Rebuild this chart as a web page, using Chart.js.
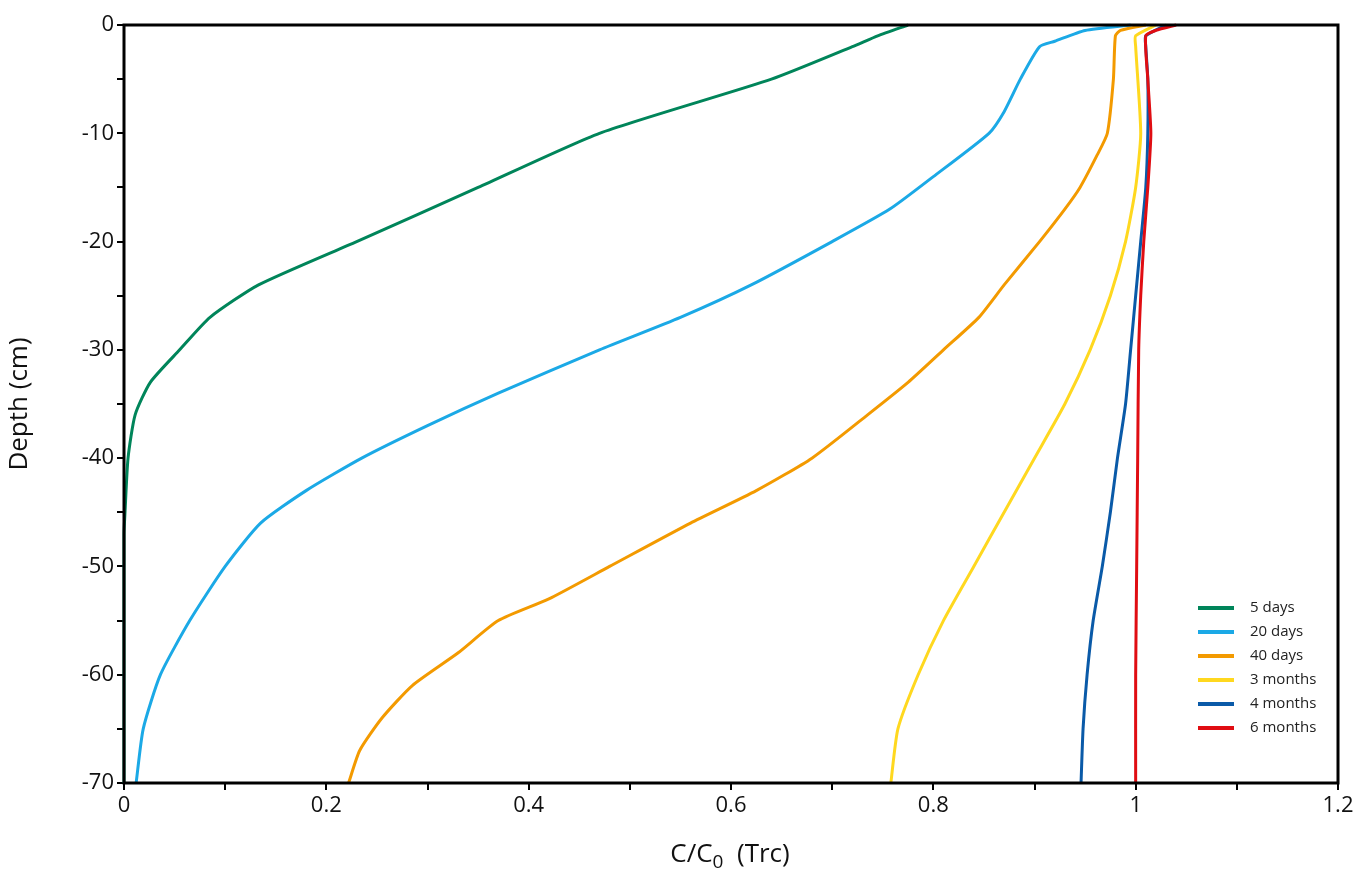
<!DOCTYPE html>
<html>
<head>
<meta charset="utf-8">
<script src="https://cdn.jsdelivr.net/npm/chart.js@4"></script>
<style>
  html, body { margin: 0; padding: 0; background: #fff; }
  #wrap { position: relative; width: 1358px; height: 889px; font-family: "Open Sans", "DejaVu Sans", sans-serif; }
  #xtitle { position: absolute; left: 0; width: 1460px; top: 834px; text-align: center; font-size: 26px; color: #111; }
  #xtitle sub { font-size: 19px; }
  #legend { position: absolute; left: 1198px; top: 594px; font-size: 15px; color: #222; }
  #legend div { height: 24px; line-height: 24px; white-space: nowrap; }
  #legend span { display: inline-block; width: 36px; height: 4px; vertical-align: middle; margin-right: 16px; }
</style>
</head>
<body>
<div id="wrap">
  <canvas id="c" width="1358" height="889"></canvas>
  <div id="xtitle">C/C<sub>0</sub>&nbsp; (Trc)</div>
  <div id="legend"></div>
</div>
<script>
// series labels and colours
const seriesNames = ["5 days", "20 days", "40 days", "3 months", "4 months", "6 months"];
const seriesColors = ["#00855a", "#1ba9e6", "#f39a00", "#ffd81f", "#0a5aa8", "#e00d12"];

// depth (cm) and C/C0 per series
const depth5d = [0, -1, -2, -5, -10, -15, -20, -24, -27, -30, -33, -36, -40, -45, -47, -70];
const conc5d = [0.775, 0.745, 0.72, 0.64, 0.47, 0.35, 0.23, 0.133, 0.085, 0.055, 0.026, 0.011, 0.004, 0.001, 0, 0];

const depth20d = [0, -0.5, -1.5, -2, -5, -8, -10, -14, -17, -20, -24, -27, -30, -34, -37, -40, -43, -46, -50, -55, -60, -65, -70];
const conc20d = [0.995, 0.95, 0.92, 0.905, 0.886, 0.87, 0.855, 0.80, 0.757, 0.70, 0.62, 0.55, 0.47, 0.37, 0.30, 0.235, 0.18, 0.135, 0.10, 0.065, 0.036, 0.019, 0.012];

const depth40d = [0, -0.5, -1, -5, -10, -12, -15, -17, -20, -24, -27, -30, -33, -36, -40, -43, -46, -50, -53, -55, -58, -61, -64, -67, -70];
const conc40d = [1.01, 0.985, 0.98, 0.978, 0.972, 0.962, 0.945, 0.93, 0.905, 0.87, 0.845, 0.81, 0.775, 0.735, 0.68, 0.625, 0.56, 0.48, 0.42, 0.37, 0.33, 0.285, 0.255, 0.233, 0.222];

const depth3m = [0, -1, -2, -10, -15, -20, -25, -30, -35, -40, -45, -50, -55, -60, -65, -70];
const conc3m = [1.02, 1.0, 1.0, 1.005, 1.0, 0.99, 0.975, 0.955, 0.93, 0.90, 0.87, 0.84, 0.81, 0.785, 0.765, 0.758];

const depth4m = [0, -1, -2, -5, -10, -15, -20, -25, -30, -35, -40, -45, -50, -55, -60, -65, -70];
const conc4m = [1.03, 1.01, 1.01, 1.012, 1.012, 1.01, 1.005, 1.0, 0.995, 0.99, 0.982, 0.975, 0.967, 0.958, 0.952, 0.948, 0.946];

const depth6m = [0, -0.5, -1, -5, -10, -15, -20, -25, -30, -40, -50, -60, -70];
const conc6m = [1.04, 1.02, 1.01, 1.012, 1.015, 1.012, 1.008, 1.005, 1.003, 1.002, 1.001, 1.0, 1.0];

const depths = [depth5d, depth20d, depth40d, depth3m, depth4m, depth6m];
const concs = [conc5d, conc20d, conc40d, conc3m, conc4m, conc6m];

const datasets = seriesNames.map((name, i) => ({
    label: name,
    data: depths[i].map((d, k) => ({ x: concs[i][k], y: d })),
    showLine: true,
    borderColor: seriesColors[i],
    backgroundColor: seriesColors[i],
    borderWidth: 3,
    pointRadius: 0,
    tension: 0.2,
    clip: 4
})).reverse();

// legend
const legendEl = document.getElementById('legend');
seriesNames.forEach((name, i) => {
    const row = document.createElement('div');
    row.innerHTML = '<span style="background:' + seriesColors[i] + '"></span>' + name;
    legendEl.appendChild(row);
});

// box around plot area
const frame = {
    id: 'frame',
    afterDatasetsDraw(chart) {
        const a = chart.chartArea, ctx = chart.ctx;
        ctx.save();
        ctx.strokeStyle = '#000';
        ctx.lineWidth = 3;
        ctx.strokeRect(a.left, a.top, a.right - a.left, a.bottom - a.top);
        ctx.restore();
    }
};

const tickFont = { family: '"Open Sans", "DejaVu Sans", sans-serif', size: 22 };

new Chart(document.getElementById('c'), {
    type: 'scatter',
    data: { datasets },
    plugins: [frame],
    options: {
        responsive: false,
        animation: false,
        layout: { padding: { top: 25, right: 20, left: 0, bottom: 0 } },
        plugins: { legend: { display: false }, tooltip: { enabled: false } },
        scales: {
            x: {
                min: 0, max: 1.2,
                grid: { drawOnChartArea: false, color: '#000', tickLength: 7, lineWidth: 2 },
                border: { display: false },
                ticks: {
                    stepSize: 0.1, color: '#111', font: tickFont, maxRotation: 0, autoSkip: false,
                    callback: v => {
                        const r = Math.round(v * 10);
                        return r % 2 === 0 ? String(r / 10) : '';
                    }
                },
                afterFit: s => { s.height = 106; }
            },
            y: {
                min: -70, max: 0,
                grid: { drawOnChartArea: false, color: '#000', tickLength: 7, lineWidth: 2 },
                border: { display: false },
                title: { display: true, text: 'Depth (cm)', color: '#111', font: { family: tickFont.family, size: 26 } },
                ticks: {
                    stepSize: 5, color: '#111', font: tickFont, autoSkip: false,
                    callback: v => (Math.round(v) % 10 === 0 ? String(v) : '')
                },
                afterFit: s => { s.width = 124; }
            }
        }
    }
});
</script>
</body>
</html>
